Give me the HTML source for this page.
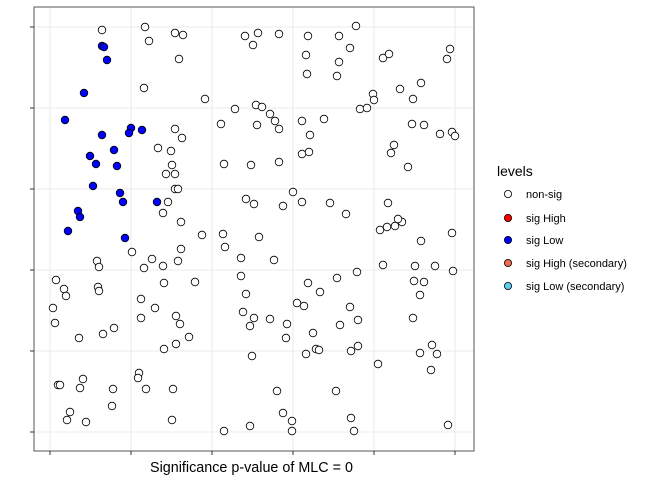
<!DOCTYPE html><html><head><meta charset="utf-8"><style>body{margin:0;background:#fff}svg{display:block}</style></head><body>
<svg width="672" height="480" xmlns="http://www.w3.org/2000/svg" font-family="Liberation Sans, sans-serif">
<rect width="672" height="480" fill="#fff"/>
<g stroke="#ebebeb" stroke-width="1.1">
<line x1="50" y1="7" x2="50" y2="451"/><line x1="131" y1="7" x2="131" y2="451"/><line x1="212" y1="7" x2="212" y2="451"/><line x1="293" y1="7" x2="293" y2="451"/><line x1="374" y1="7" x2="374" y2="451"/><line x1="455" y1="7" x2="455" y2="451"/>
<line x1="34" y1="27" x2="474" y2="27"/><line x1="34" y1="108" x2="474" y2="108"/><line x1="34" y1="189" x2="474" y2="189"/><line x1="34" y1="270" x2="474" y2="270"/><line x1="34" y1="351" x2="474" y2="351"/><line x1="34" y1="432" x2="474" y2="432"/>
</g>
<rect x="34" y="7" width="440" height="444" fill="none" stroke="#555" stroke-width="1"/>
<g stroke="#333" stroke-width="1">
<line x1="30" y1="27" x2="34" y2="27"/><line x1="30" y1="108" x2="34" y2="108"/><line x1="30" y1="189" x2="34" y2="189"/><line x1="30" y1="270" x2="34" y2="270"/><line x1="30" y1="351" x2="34" y2="351"/><line x1="30" y1="432" x2="34" y2="432"/>
<line x1="50" y1="451" x2="50" y2="455"/><line x1="131" y1="451" x2="131" y2="455"/><line x1="212" y1="451" x2="212" y2="455"/><line x1="293" y1="451" x2="293" y2="455"/><line x1="374" y1="451" x2="374" y2="455"/><line x1="455" y1="451" x2="455" y2="455"/>
</g>
<text x="251.5" y="472" font-size="14.35" text-anchor="middle" fill="#000">Significance p-value of MLC = 0</text>
<text x="497" y="176" font-size="14" fill="#000">levels</text>
<g stroke="#000" stroke-width="0.8">
<circle cx="508" cy="194" r="3.6" fill="#fff"/><circle cx="508" cy="218" r="3.6" fill="#ff0000"/><circle cx="508" cy="240" r="3.6" fill="#0000ff"/><circle cx="508" cy="263" r="3.6" fill="#ee6a50"/><circle cx="508" cy="286" r="3.6" fill="#5ccfee"/>
</g>
<g font-size="11" fill="#000">
<text x="526" y="198">non-sig</text><text x="526" y="222">sig High</text><text x="526" y="244">sig Low</text><text x="526" y="267">sig High (secondary)</text><text x="526" y="290">sig Low (secondary)</text>
</g>
<g stroke="#000" stroke-width="0.8" fill="#fff">
<circle cx="102" cy="30" r="3.8"/><circle cx="145" cy="27" r="3.8"/><circle cx="175" cy="33" r="3.8"/><circle cx="183" cy="35" r="3.8"/><circle cx="149" cy="41" r="3.8"/><circle cx="179" cy="59" r="3.8"/><circle cx="144" cy="88" r="3.8"/><circle cx="205" cy="99" r="3.8"/><circle cx="235" cy="109" r="3.8"/><circle cx="221" cy="124" r="3.8"/><circle cx="175" cy="129" r="3.8"/><circle cx="182" cy="138" r="3.8"/><circle cx="158" cy="148" r="3.8"/><circle cx="171" cy="151" r="3.8"/><circle cx="224" cy="164" r="3.8"/><circle cx="172" cy="165" r="3.8"/><circle cx="166" cy="174" r="3.8"/><circle cx="175" cy="174" r="3.8"/><circle cx="175" cy="189" r="3.8"/><circle cx="178" cy="189" r="3.8"/><circle cx="168" cy="202" r="3.8"/><circle cx="163" cy="213" r="3.8"/><circle cx="181" cy="222" r="3.8"/><circle cx="202" cy="235" r="3.8"/><circle cx="223" cy="234" r="3.8"/>
<circle cx="132" cy="252" r="3.8"/><circle cx="97" cy="261" r="3.8"/><circle cx="99" cy="267" r="3.8"/><circle cx="152" cy="259" r="3.8"/><circle cx="144" cy="268" r="3.8"/><circle cx="163" cy="266" r="3.8"/><circle cx="178" cy="261" r="3.8"/><circle cx="181" cy="249" r="3.8"/><circle cx="225" cy="247" r="3.8"/><circle cx="56" cy="280" r="3.8"/><circle cx="64" cy="289" r="3.8"/><circle cx="66" cy="296" r="3.8"/><circle cx="98" cy="287" r="3.8"/><circle cx="99" cy="291" r="3.8"/><circle cx="164" cy="283" r="3.8"/><circle cx="141" cy="299" r="3.8"/><circle cx="195" cy="282" r="3.8"/><circle cx="53" cy="308" r="3.8"/><circle cx="55" cy="323" r="3.8"/><circle cx="141" cy="318" r="3.8"/><circle cx="155" cy="308" r="3.8"/><circle cx="176" cy="316" r="3.8"/><circle cx="180" cy="324" r="3.8"/><circle cx="79" cy="338" r="3.8"/><circle cx="103" cy="334" r="3.8"/><circle cx="114" cy="328" r="3.8"/><circle cx="176" cy="344" r="3.8"/><circle cx="189" cy="337" r="3.8"/><circle cx="113" cy="389" r="3.8"/><circle cx="164" cy="349" r="3.8"/><circle cx="139" cy="373" r="3.8"/><circle cx="138" cy="378" r="3.8"/><circle cx="83" cy="379" r="3.8"/><circle cx="58" cy="385" r="3.8"/><circle cx="60" cy="385" r="3.8"/><circle cx="80" cy="388" r="3.8"/><circle cx="146" cy="389" r="3.8"/><circle cx="173" cy="389" r="3.8"/><circle cx="112" cy="406" r="3.8"/><circle cx="70" cy="412" r="3.8"/><circle cx="67" cy="420" r="3.8"/><circle cx="86" cy="422" r="3.8"/><circle cx="172" cy="420" r="3.8"/><circle cx="224" cy="431" r="3.8"/>
<circle cx="245" cy="36" r="3.8"/><circle cx="258" cy="33" r="3.8"/><circle cx="253" cy="45" r="3.8"/><circle cx="279" cy="34" r="3.8"/><circle cx="308" cy="36" r="3.8"/><circle cx="306" cy="55" r="3.8"/><circle cx="339" cy="36" r="3.8"/><circle cx="356" cy="26" r="3.8"/><circle cx="350" cy="48" r="3.8"/><circle cx="339" cy="62" r="3.8"/><circle cx="383" cy="58" r="3.8"/><circle cx="389" cy="54" r="3.8"/><circle cx="450" cy="49" r="3.8"/><circle cx="447" cy="59" r="3.8"/><circle cx="307" cy="74" r="3.8"/><circle cx="337" cy="76" r="3.8"/><circle cx="421" cy="83" r="3.8"/><circle cx="400" cy="89" r="3.8"/><circle cx="413" cy="99" r="3.8"/><circle cx="373" cy="94" r="3.8"/><circle cx="374" cy="100" r="3.8"/><circle cx="360" cy="109" r="3.8"/><circle cx="367" cy="108" r="3.8"/><circle cx="256" cy="105" r="3.8"/><circle cx="262" cy="107" r="3.8"/><circle cx="270" cy="114" r="3.8"/><circle cx="275" cy="121" r="3.8"/><circle cx="257" cy="125" r="3.8"/><circle cx="279" cy="129" r="3.8"/><circle cx="302" cy="121" r="3.8"/><circle cx="324" cy="119" r="3.8"/><circle cx="412" cy="124" r="3.8"/><circle cx="424" cy="125" r="3.8"/><circle cx="440" cy="134" r="3.8"/><circle cx="452" cy="132" r="3.8"/><circle cx="455" cy="136" r="3.8"/><circle cx="310" cy="135" r="3.8"/><circle cx="394" cy="145" r="3.8"/><circle cx="391" cy="153" r="3.8"/><circle cx="302" cy="154" r="3.8"/><circle cx="309" cy="152" r="3.8"/><circle cx="408" cy="167" r="3.8"/><circle cx="251" cy="165" r="3.8"/><circle cx="279" cy="162" r="3.8"/><circle cx="293" cy="192" r="3.8"/><circle cx="246" cy="199" r="3.8"/><circle cx="254" cy="204" r="3.8"/><circle cx="283" cy="206" r="3.8"/><circle cx="302" cy="202" r="3.8"/><circle cx="330" cy="203" r="3.8"/><circle cx="346" cy="214" r="3.8"/><circle cx="388" cy="203" r="3.8"/><circle cx="402" cy="222" r="3.8"/><circle cx="395" cy="226" r="3.8"/><circle cx="387" cy="227" r="3.8"/><circle cx="380" cy="230" r="3.8"/><circle cx="398" cy="219" r="3.8"/><circle cx="421" cy="241" r="3.8"/><circle cx="452" cy="233" r="3.8"/><circle cx="259" cy="237" r="3.8"/>
<circle cx="241" cy="258" r="3.8"/><circle cx="274" cy="260" r="3.8"/><circle cx="241" cy="276" r="3.8"/><circle cx="246" cy="294" r="3.8"/><circle cx="243" cy="312" r="3.8"/><circle cx="254" cy="318" r="3.8"/><circle cx="250" cy="326" r="3.8"/><circle cx="270" cy="319" r="3.8"/><circle cx="287" cy="324" r="3.8"/><circle cx="286" cy="338" r="3.8"/><circle cx="252" cy="356" r="3.8"/><circle cx="337" cy="278" r="3.8"/><circle cx="357" cy="272" r="3.8"/><circle cx="383" cy="265" r="3.8"/><circle cx="415" cy="266" r="3.8"/><circle cx="414" cy="281" r="3.8"/><circle cx="424" cy="282" r="3.8"/><circle cx="420" cy="295" r="3.8"/><circle cx="435" cy="266" r="3.8"/><circle cx="453" cy="271" r="3.8"/><circle cx="308" cy="283" r="3.8"/><circle cx="320" cy="292" r="3.8"/><circle cx="297" cy="303" r="3.8"/><circle cx="304" cy="306" r="3.8"/><circle cx="350" cy="307" r="3.8"/><circle cx="340" cy="325" r="3.8"/><circle cx="358" cy="320" r="3.8"/><circle cx="313" cy="333" r="3.8"/><circle cx="316" cy="349" r="3.8"/><circle cx="306" cy="354" r="3.8"/><circle cx="319" cy="350" r="3.8"/><circle cx="351" cy="351" r="3.8"/><circle cx="358" cy="346" r="3.8"/><circle cx="413" cy="318" r="3.8"/><circle cx="432" cy="345" r="3.8"/><circle cx="420" cy="353" r="3.8"/><circle cx="437" cy="354" r="3.8"/><circle cx="431" cy="370" r="3.8"/><circle cx="378" cy="364" r="3.8"/><circle cx="277" cy="391" r="3.8"/><circle cx="336" cy="391" r="3.8"/><circle cx="283" cy="413" r="3.8"/><circle cx="292" cy="421" r="3.8"/><circle cx="292" cy="431" r="3.8"/><circle cx="250" cy="426" r="3.8"/><circle cx="351" cy="418" r="3.8"/><circle cx="354" cy="431" r="3.8"/><circle cx="448" cy="425" r="3.8"/>
</g>
<g stroke="#000" stroke-width="0.8" fill="#0000ff">
<circle cx="102" cy="46" r="3.8"/><circle cx="104" cy="47" r="3.8"/><circle cx="107" cy="60" r="3.8"/><circle cx="84" cy="93" r="3.8"/><circle cx="65" cy="120" r="3.8"/><circle cx="131" cy="128" r="3.8"/><circle cx="129" cy="133" r="3.8"/><circle cx="142" cy="130" r="3.8"/><circle cx="102" cy="135" r="3.8"/><circle cx="114" cy="150" r="3.8"/><circle cx="90" cy="156" r="3.8"/><circle cx="96" cy="164" r="3.8"/><circle cx="117" cy="166" r="3.8"/><circle cx="93" cy="186" r="3.8"/><circle cx="120" cy="193" r="3.8"/><circle cx="123" cy="202" r="3.8"/><circle cx="157" cy="202" r="3.8"/><circle cx="78" cy="211" r="3.8"/><circle cx="80" cy="217" r="3.8"/><circle cx="68" cy="231" r="3.8"/><circle cx="125" cy="238" r="3.8"/>
</g>
</svg>
</body></html>
